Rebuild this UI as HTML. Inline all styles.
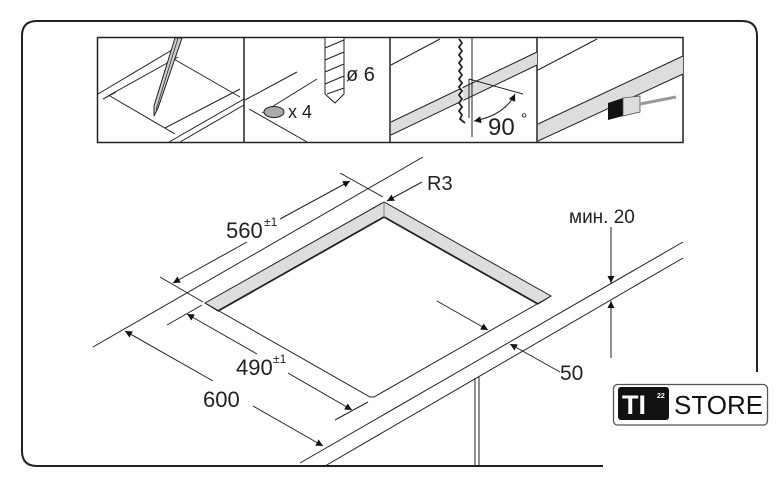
<!DOCTYPE html>
<html><head><meta charset="utf-8"><style>
html,body{margin:0;padding:0;background:#fff;width:779px;height:488px;overflow:hidden}
svg{display:block}
text{font-family:"Liberation Sans",sans-serif;fill:#222}
</style></head><body>
<svg width="779" height="488" viewBox="0 0 779 488" xmlns="http://www.w3.org/2000/svg">
<defs>
<marker id="ah" viewBox="0 0 10 10" refX="10" refY="5" markerWidth="9" markerHeight="7" orient="auto-start-reverse" markerUnits="userSpaceOnUse"><path d="M0,0 L10,5 L0,10 z" fill="#111"/></marker>
</defs>
<path d="M603,466 H37 Q22,466 22,451 V36 Q22,21 37,21 H742 Q757,21 757,36 V372" fill="none" stroke="#222" stroke-width="2"/>
<rect x="97.5" y="37.5" width="585.5" height="105" fill="none" stroke="#222" stroke-width="1.5"/>
<line x1="244" y1="37" x2="244" y2="143" stroke="#222" stroke-width="1.5"/>
<line x1="390" y1="37" x2="390" y2="143" stroke="#222" stroke-width="1.5"/>
<line x1="537" y1="37" x2="537" y2="143" stroke="#222" stroke-width="1.5"/>
<g stroke="#222" stroke-width="1" fill="none">
<line x1="98" y1="94" x2="172" y2="50"/>
<line x1="108" y1="96" x2="178" y2="57"/>
<line x1="172" y1="58" x2="240" y2="97"/>
<line x1="110" y1="96" x2="175" y2="134"/>
<line x1="165" y1="128" x2="240" y2="89"/>
<line x1="169" y1="142" x2="244" y2="99"/>
<line x1="180" y1="142" x2="244" y2="105"/>
<line x1="103" y1="99" x2="116" y2="92"/>
</g>
<polygon points="175,38 182,38 158,108 154,116 154,106" fill="#ccc" stroke="#222" stroke-width="1"/>
<line x1="178" y1="38" x2="156" y2="110" stroke="#222" stroke-width="0.7"/>
<g stroke="#222" stroke-width="1" fill="none">
<line x1="245" y1="100" x2="297" y2="72"/>
<line x1="262" y1="113" x2="317" y2="79"/>
<line x1="249" y1="109" x2="307" y2="142"/>
</g>
<ellipse cx="274" cy="112" rx="10" ry="5.5" fill="#aaa" stroke="#222" stroke-width="1"/>
<text x="288" y="118" font-size="18">x 4</text>
<path d="M325,38 V94 L335,103 L344,94 V38" fill="#fff" stroke="#222" stroke-width="1"/>
<path d="M325,48 L344,40 M325,60 L344,52 M325,72 L344,64 M325,84 L344,76 M327,94 L344,88" stroke="#222" stroke-width="1"/>
<text x="346" y="81" font-size="20">ø 6</text>
<polygon points="391,122 537,52 537,65 391,135" fill="#ddd"/>
<g stroke="#222" stroke-width="1" fill="none">
<line x1="391" y1="122" x2="537" y2="52"/>
<line x1="391" y1="135" x2="537" y2="65"/>
<line x1="391" y1="65" x2="440" y2="39"/>
<path d="M459,39 l3,4 -3,4 3,4 -3,4 3,4 -3,4 3,4 -3,4 3,4 -3,4 3,4 -3,4 3,4 -3,4 3,4 -3,4 3,4 -3,4 3,4 -2,4 5,4" stroke-width="1.8" fill="#fff"/>
<line x1="472" y1="38" x2="472" y2="137"/>
<line x1="469" y1="79" x2="469" y2="118"/>
<line x1="469" y1="79" x2="523" y2="94"/>
<path d="M474,121 Q505,115 515,94" marker-start="url(#ah)" marker-end="url(#ah)"/>
</g>
<text x="488" y="135" font-size="24">90</text>
<text x="521" y="124" font-size="16">°</text>
<polygon points="538,124 683,56 683,74 538,141" fill="#ddd"/>
<g stroke="#222" stroke-width="1" fill="none">
<line x1="538" y1="124" x2="683" y2="56"/>
<line x1="538" y1="141" x2="683" y2="74"/>
<line x1="538" y1="70" x2="597" y2="39"/>
</g>
<polygon points="608,103 623,98 623,116 608,120" fill="#111"/>
<polygon points="623,98 640,96 640,112 623,116" fill="#ddd" stroke="#555" stroke-width="0.8"/>
<line x1="640" y1="104" x2="676" y2="97" stroke="#999" stroke-width="3"/>
<polygon points="384,202 205,303 218,311 384,217 538,304 551,296" fill="#ddd" stroke="#222" stroke-width="1"/>
<g stroke="#222" stroke-width="1" fill="none">
<polyline points="384,217 218,311" stroke-width="1.8"/>
<polyline points="384,217 538,304" stroke-width="1.8"/>
<line x1="384" y1="203" x2="384" y2="217" stroke="#888"/>
<polyline points="205,303 370,397 374,397 551,296"/>
<line x1="93" y1="347" x2="423" y2="157"/>
<line x1="300" y1="463" x2="683" y2="242"/>
<line x1="325" y1="466" x2="683" y2="258"/>
<line x1="475" y1="378" x2="475" y2="466"/>
<line x1="479" y1="376" x2="479" y2="466"/>
<line x1="340" y1="173" x2="383" y2="197"/>
<line x1="160" y1="277" x2="203" y2="302"/>
<line x1="167" y1="325" x2="202" y2="305"/>
<line x1="335" y1="420" x2="368" y2="402"/>
<line x1="247" y1="242" x2="173" y2="283" marker-end="url(#ah)"/>
<line x1="280" y1="219" x2="350" y2="181" marker-end="url(#ah)"/>
<line x1="213" y1="381" x2="125" y2="331" marker-end="url(#ah)"/>
<line x1="253" y1="406" x2="323" y2="446" marker-end="url(#ah)"/>
<line x1="257" y1="354" x2="187" y2="314" marker-end="url(#ah)"/>
<line x1="288" y1="373" x2="352" y2="410" marker-end="url(#ah)"/>
<line x1="422" y1="182" x2="387" y2="201" marker-end="url(#ah)"/>
<line x1="437" y1="301" x2="488" y2="330" marker-end="url(#ah)"/>
<line x1="560" y1="372" x2="510" y2="344" marker-end="url(#ah)"/>
<line x1="611" y1="227" x2="611" y2="283" marker-end="url(#ah)"/>
<line x1="611" y1="358" x2="611" y2="301" marker-end="url(#ah)"/>
</g>
<text x="226" y="238" font-size="22">560</text><text x="264" y="226" font-size="12">±1</text>
<text x="236" y="375" font-size="22">490</text><text x="273" y="363" font-size="12">±1</text>
<text x="203" y="407" font-size="22">600</text>
<text x="427" y="190" font-size="20">R3</text>
<text x="560" y="380" font-size="21">50</text>
<text x="569" y="223" font-size="19">мин. 20</text>
<rect x="613.5" y="384.5" width="154" height="40.5" rx="4" fill="#fff" stroke="#555" stroke-width="1.3"/>
<rect x="618" y="387" width="51" height="33" rx="3" fill="#111"/>
<text x="622" y="414" font-size="27" font-weight="bold" style="fill:#fff">TI</text>
<text x="657" y="398" font-size="7" font-weight="bold" style="fill:#fff">22</text>
<text x="674" y="414" font-size="26" style="fill:#111">STORE</text>
</svg>
</body></html>
